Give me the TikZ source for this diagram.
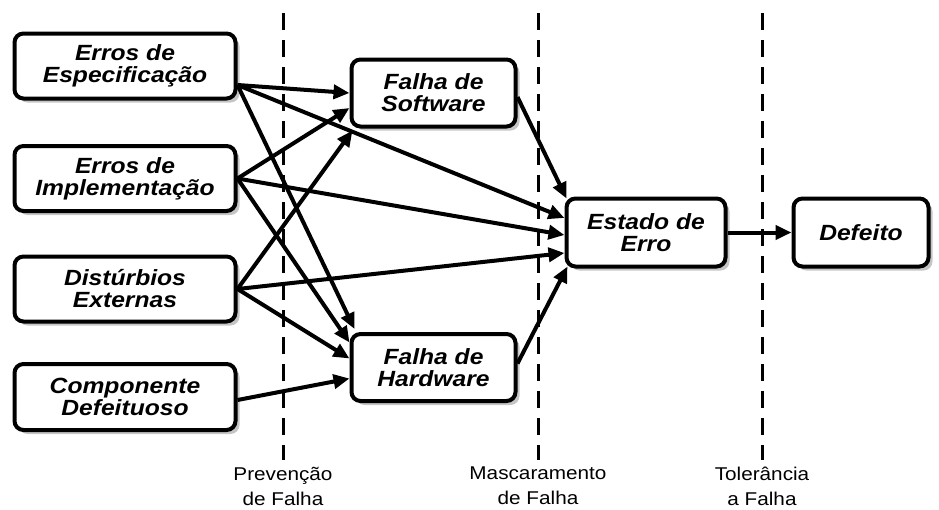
\documentclass[tikz,border=0pt]{standalone}
\usepackage{fontspec}
\setmainfont{Liberation Sans}[FakeStretch=1.12]
\usetikzlibrary{arrows.meta,shadows}
\begin{document}
\begin{tikzpicture}[x=1pt,y=-1pt,
  box/.style={draw=black, line width=4pt, rounded corners=9pt, fill=white, align=center,
    font=\fontsize{22}{22}\selectfont\bfseries\itshape, inner sep=0pt,
    drop shadow={shadow xshift=4pt, shadow yshift=-4pt, fill=black!45}},
  arr/.style={line width=4pt, -{Triangle[length=16pt,width=14pt]}},
  sep/.style={line width=3pt, dash pattern=on 17pt off 10pt},
  lab/.style={align=center, font=\fontsize{18.5}{25}\selectfont, inner sep=0pt}
]
\useasboundingbox (0,0) rectangle (939,509);
% separators
\draw[sep] (283,13) -- (283,460);
\draw[sep] (538,13) -- (538,460);
\draw[sep] (762,13) -- (762,460);
\node[lab, anchor=north] (l1) at (283,467) {Prevenção\\de Falha};
\node[lab, anchor=north] (l2) at (538,467) {Mascaramento\\de Falha};
\node[lab, anchor=north] (l3) at (762,467) {Tolerância\\a Falha};
% boxes
\node[box, minimum width=221pt, minimum height=65pt] (e1) at (125,66) {Erros de\\Especificação};
\node[box, minimum width=221pt, minimum height=65pt] (e2) at (125,178.5) {Erros de\\Implementação};
\node[box, minimum width=221pt, minimum height=65pt] (e3) at (125,289) {Distúrbios\\Externas};
\node[box, minimum width=221pt, minimum height=66pt] (e4) at (125,397) {Componente\\Defeituoso};
\node[box, minimum width=164pt, minimum height=67pt] (sw) at (433.5,93) {Falha de\\Software};
\node[box, minimum width=164pt, minimum height=67pt] (hw) at (433.5,367.5) {Falha de\\Hardware};
\node[box, minimum width=159pt, minimum height=68pt] (est) at (646,232.5) {Estado de\\Erro};
\node[box, minimum width=135pt, minimum height=68pt] (def) at (861,232.5) {Defeito};
% arrows
\draw[arr] ([yshift=-19pt]e1.east) -- (sw.west);
\draw[arr] ([yshift=-19pt]e1.east) -- ([yshift=14.5pt]est.west);
\draw[arr] ([yshift=-19pt]e1.east) -- ([xshift=5pt,yshift=3pt]hw.north west);
\draw[arr] (e2.east) -- ([yshift=-15pt]sw.west);
\draw[arr] (e2.east) -- ([yshift=-2.5pt]est.west);
\draw[arr] (e2.east) -- ([yshift=25pt]hw.west);
\draw[arr] (e3.east) -- ([xshift=3pt,yshift=-2pt]sw.south west);
\draw[arr] (e3.east) -- ([yshift=-20.5pt]est.west);
\draw[arr] (e3.east) -- ([yshift=9pt]hw.west);
\draw[arr] ([yshift=-3pt]e4.east) -- ([yshift=-11pt]hw.west);
\draw[arr] ([yshift=-4pt]sw.east) -- ([xshift=2pt,yshift=-2pt]est.north west);
\draw[arr] ([yshift=4pt]hw.east) -- ([xshift=3pt,yshift=2pt]est.south west);
\draw[arr] (est.east) -- (def.west);
\end{tikzpicture}
\end{document}
